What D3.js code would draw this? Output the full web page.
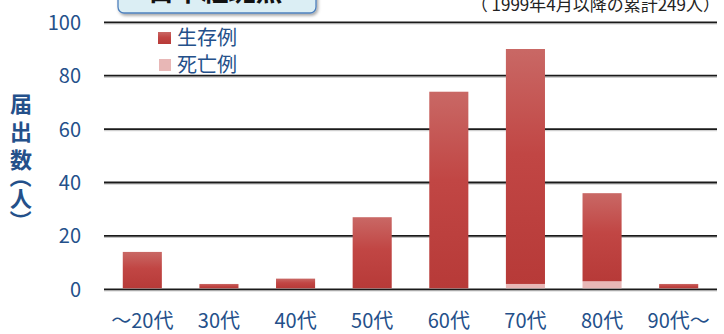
<!DOCTYPE html>
<html><head><meta charset="utf-8">
<script src="https://cdn.jsdelivr.net/npm/d3@7"></script>
<style>
html,body{margin:0;padding:0;background:#fff;}
svg{display:block;font-family:"Noto Sans CJK JP","Noto Sans",sans-serif;}
</style></head>
<body>
<svg id="c" width="724" height="334"></svg>
<script>
const categories = ["〜20代","30代","40代","50代","60代","70代","80代","90代〜"];
const survived = [14, 2, 4, 27, 74, 88, 33, 2];
const died = [0, 0, 0, 0, 0, 2, 3, 0];
const yTicks = [0, 20, 40, 60, 80, 100];
const seriesNames = ["生存例", "死亡例"];
const titleText = "日本紅斑熱";
const noteText = "（ 1999年4月以降の累計249人）";
const yTitleChars = ["届","出","数","（","人","）"];

const svg = d3.select("#c");
const textCol = "#24508a";
const cjk = "'Noto Sans CJK JP','Noto Sans',sans-serif";
const x = d3.scaleBand().domain(categories).range([104, 717]).paddingInner(0.49).paddingOuter(0.245);
const y = d3.scaleLinear().domain([0, 100]).range([289.3, 22.3]);

const defs = svg.append("defs");
const g1 = defs.append("linearGradient").attr("id","gAlive").attr("x1",0).attr("y1",0).attr("x2",0).attr("y2",1);
g1.append("stop").attr("offset","0%").attr("stop-color","#c96865");
g1.append("stop").attr("offset","45%").attr("stop-color","#c14644");
g1.append("stop").attr("offset","100%").attr("stop-color","#b73a38");
const f = defs.append("filter").attr("id","sh").attr("x","-10%").attr("y","-50%").attr("width","120%").attr("height","200%");
f.append("feDropShadow").attr("dx",1.5).attr("dy",2).attr("stdDeviation",1.8).attr("flood-color","#000").attr("flood-opacity",0.35);

// gridlines
const grid = svg.append("g");
yTicks.forEach(t => {
  grid.append("line").attr("x1",104).attr("x2",717).attr("y1",y(t)+1.6).attr("y2",y(t)+1.6)
    .attr("stroke","#c4c4c4").attr("stroke-width",1);
  grid.append("line").attr("x1",104).attr("x2",717).attr("y1",y(t)).attr("y2",y(t))
    .attr("stroke","#1a1a1a").attr("stroke-width",1.8);
});

// y axis labels
const yAxis = d3.axisLeft(y).tickValues(yTicks).tickSize(0).tickPadding(0);
const ya = svg.append("g").attr("transform","translate(81,0)").call(yAxis)
  .attr("font-family", cjk).attr("font-size", 20);
ya.select(".domain").remove();
ya.selectAll("text").attr("fill",textCol).attr("dy","0.35em");

// x axis labels
const xAxis = d3.axisBottom(x).tickSize(0).tickPadding(0);
const xa = svg.append("g").attr("transform","translate(0,321)").call(xAxis)
  .attr("font-family", cjk).attr("font-size", 20);
xa.select(".domain").remove();
xa.selectAll("text").attr("fill",textCol).attr("dy","0.35em").attr("y",0);

// bars
const bars = svg.append("g");
categories.forEach((c, i) => {
  const d = died[i], s = survived[i];
  if (d > 0) {
    bars.append("rect").attr("x", x(c)).attr("width", x.bandwidth())
      .attr("y", y(d)).attr("height", y(0) - y(d) - 1).attr("fill", "#e8b7b6");
  }
  bars.append("rect").attr("x", x(c)).attr("width", x.bandwidth())
    .attr("y", y(d + s)).attr("height", y(d) - y(d + s) - (d > 0 ? 0 : 1)).attr("fill", "url(#gAlive)");
});

// legend
const leg = svg.append("g");
leg.append("rect").attr("x",158).attr("y",32).attr("width",13).attr("height",12).attr("fill","url(#gAlive)");
leg.append("rect").attr("x",159).attr("y",59).attr("width",12).attr("height",12).attr("fill","#e8b7b6");
leg.append("text").attr("x",177).attr("y",38).attr("dy","0.35em").attr("font-size",20).attr("fill",textCol).text(seriesNames[0]);
leg.append("text").attr("x",177).attr("y",65).attr("dy","0.35em").attr("font-size",20).attr("fill",textCol).text(seriesNames[1]);

// y title (vertical)
const yc = [104, 132, 160, 177, 199, 221];
yTitleChars.forEach((ch, i) => {
  const rot = (ch === "（" || ch === "）");
  svg.append("text")
    .attr("transform", `translate(21,${yc[i]})` + (rot ? " rotate(90)" : ""))
    .attr("dy","0.35em").attr("text-anchor","middle")
    .attr("font-size",22).attr("font-weight","bold").attr("fill",textCol).text(ch);
});

// title box
svg.append("rect").attr("x",118).attr("y",-20).attr("width",198).attr("height",33).attr("rx",6)
  .attr("fill","#dbeef4").attr("stroke","#4f81bd").attr("stroke-width",1.3).attr("filter","url(#sh)");
svg.append("text").attr("x",215).attr("y",1).attr("text-anchor","middle").attr("font-size",27)
  .attr("font-weight","bold").attr("fill","#111").text(titleText);

// note
svg.append("text").attr("x",720).attr("y",10.5).attr("text-anchor","end").attr("font-size",17)
  .attr("fill","#222").text(noteText);
</script>
</body></html>
